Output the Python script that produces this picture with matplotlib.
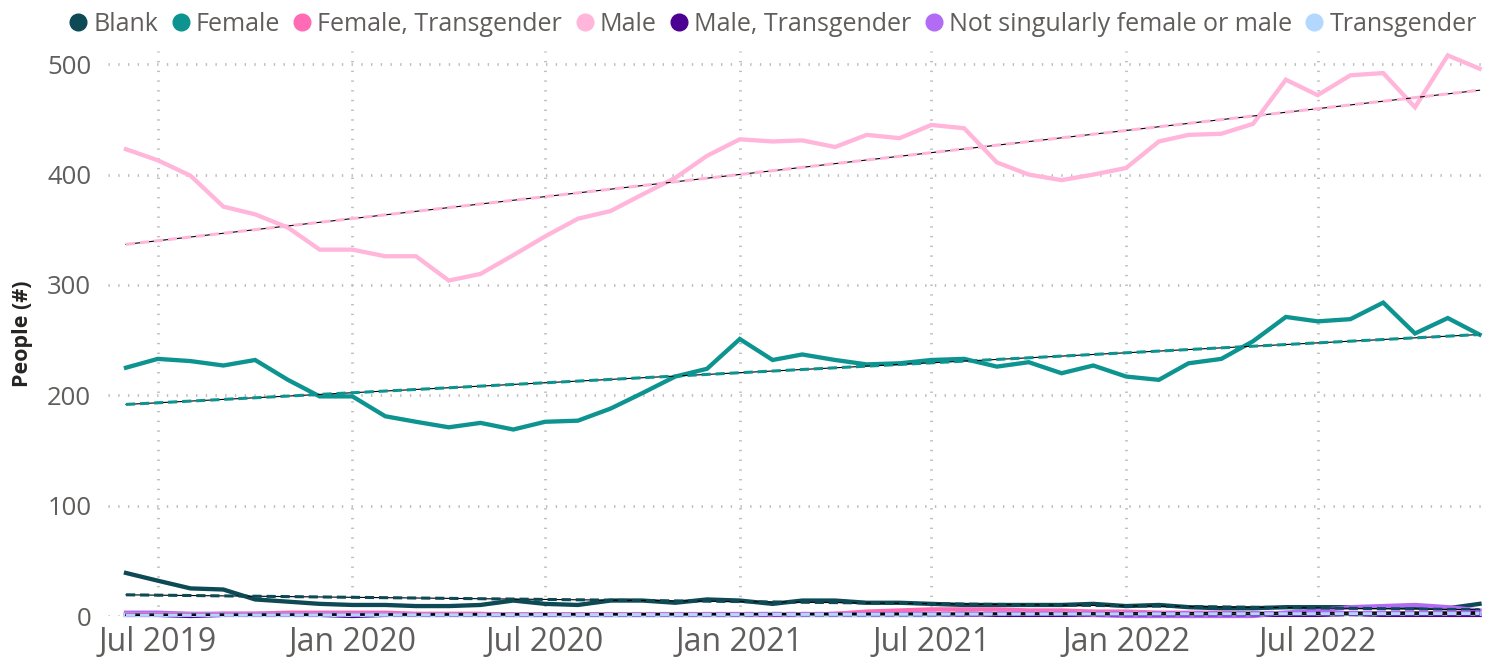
import matplotlib
matplotlib.use("Agg")
import matplotlib.pyplot as plt
import matplotlib.dates as mdates
from matplotlib.lines import Line2D
import numpy as np
import pandas as pd

plt.rcParams["font.family"] = ["Open Sans", "DejaVu Sans"]

# monthly counts, Jun 2019 .. Dec 2022
months = pd.date_range("2019-06-01", periods=43, freq="MS")

blank = [39, 32, 25, 24, 15, 13, 11, 10, 10, 9, 9, 10, 14, 11, 10,
         14, 14, 12, 15, 14, 11, 14, 14, 12, 12, 11, 10, 10, 10,
         10, 11, 9, 10, 8, 7, 7, 8, 8, 8, 8, 8, 7, 11]
female = [225, 233, 231, 227, 232, 214, 199, 199, 181, 176, 171, 175, 169, 176, 177,
          188, 202, 217, 224, 251, 232, 237, 232, 228, 229, 232, 233, 226, 230,
          220, 227, 217, 214, 229, 233, 249, 271, 267, 269, 284, 256, 270, 255]
female_trans = [1, 1, 1, 2, 2, 3, 3, 3, 3, 2, 2, 2, 1, 1, 1,
                1, 1, 1, 1, 1, 1, 1, 2, 4, 5, 6, 6, 6, 5,
                5, 4, 4, 3, 3, 3, 2, 2, 2, 2, 2, 2, 1, 1]
male = [423, 413, 399, 371, 364, 352, 332, 332, 326, 326, 304, 310, 327, 344, 360,
        367, 382, 397, 417, 432, 430, 431, 425, 436, 433, 445, 442, 411, 400,
        395, 400, 406, 430, 436, 437, 446, 486, 472, 490, 492, 461, 508, 496]
male_trans = [1, 1, 0, 1, 1, 1, 1, 0, 1, 1, 1, 1, 1, 1, 1,
              1, 1, 1, 1, 1, 1, 1, 1, 1, 1, 1, 2, 1, 1,
              1, 1, 1, 1, 1, 1, 1, 1, 1, 2, 1, 1, 1, 1]
not_singular = [3, 3, 2, 2, 2, 2, 2, 2, 2, 1, 1, 1, 1, 1, 1,
                1, 1, 1, 1, 1, 1, 1, 1, 1, 1, 1, 1, 2, 2,
                2, 1, 0, 0, 0, 0, 0, 3, 5, 8, 9, 10, 8, 5]
transgender = [1, 1, 1, 1, 1, 1, 1, 1, 1, 1, 1, 1, 1, 1, 1,
               1, 1, 1, 1, 1, 2, 1, 1, 1, 1, 1, 2, 2, 2,
               2, 2, 2, 2, 2, 2, 2, 2, 2, 2, 2, 2, 2, 2]

names = ["Blank", "Female", "Female, Transgender", "Male", "Male, Transgender",
         "Not singularly female or male", "Transgender"]
series = [blank, female, female_trans, male, male_trans, not_singular, transgender]
colors = ["#0D4A55", "#0E9490", "#FF6BB5", "#FFB6DA", "#4B0092", "#B26BF5", "#B3D8FF"]

tick_dates = pd.date_range("2019-07-01", "2022-07-01", freq="6MS")
tick_labels = [d.strftime("%b %Y") for d in tick_dates]

fig = plt.figure(figsize=(14.89, 6.63), dpi=100)
ax = fig.add_axes([108 / 1489, 47 / 663, 1380 / 1489, 565 / 663])

xnum = mdates.date2num(months)
for vals, col in zip(series, colors):
    ax.plot(months, vals, color=col, lw=3.1, solid_joinstyle="miter", clip_on=False, zorder=3)

# linear trend lines: thin black line with dashed series colour on top
for vals, col in zip(series, colors):
    k, b = np.polyfit(xnum, vals, 1)
    tx = np.array([xnum[0], xnum[-1]])
    ax.plot(tx, k * tx + b, color="black", lw=0.8, zorder=4, clip_on=False)
    ax.plot(tx, k * tx + b, color=col, lw=2.2, dashes=(3, 1.6), zorder=5, clip_on=False)

ax.set_xlim(mdates.date2num(months[0]) - 17, mdates.date2num(months[-1]) + 8)
ax.set_ylim(0, 512)
ax.set_yticks([0, 100, 200, 300, 400, 500])
ax.set_xticks(tick_dates)
ax.set_xticklabels(tick_labels)

ax.grid(True, color="#BDBDBD", lw=2.0, linestyle=(0, (0.5, 3.0)))
ax.set_axisbelow(True)
for s in ax.spines.values():
    s.set_visible(False)
ax.tick_params(length=0, colors="#605E5C")
ax.tick_params(axis="x", pad=7, labelsize=23)
ax.tick_params(axis="y", pad=12, labelsize=18.5)
ax.set_ylabel("People (#)", fontsize=15.5, fontweight="bold", color="#252423", labelpad=10)

handles = [Line2D([], [], marker="o", ls="none", color=c, markersize=12) for c in colors]
fig.legend(handles, names, loc="upper center", bbox_to_anchor=(0.518, 0.997), ncol=7,
           frameon=False, fontsize=18, handletextpad=0.1, columnspacing=0.4,
           labelcolor="#605E5C", handlelength=1.0, borderaxespad=0)

plt.savefig("out.png", dpi=100)
